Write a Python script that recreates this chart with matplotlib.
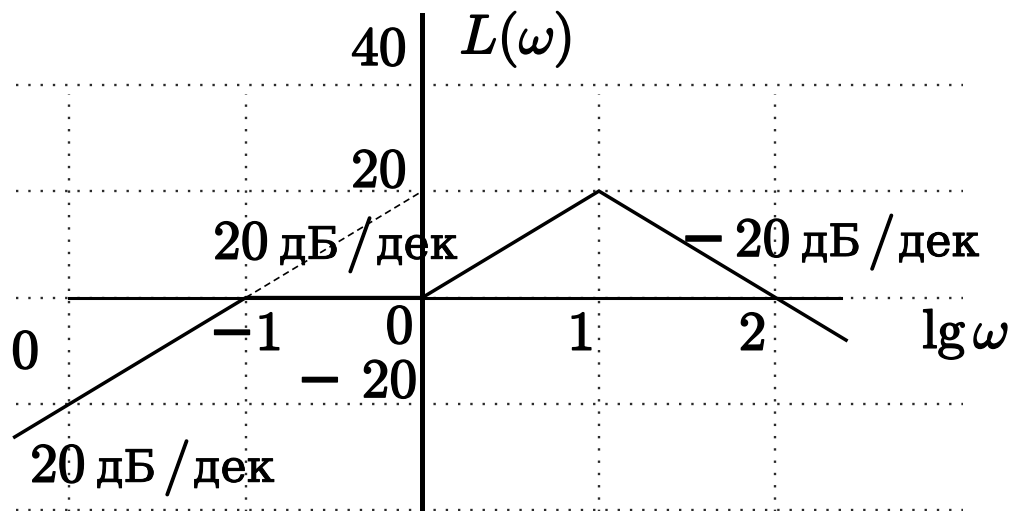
"""
Asymptotic log-magnitude characteristic L(w) with slope annotations.
"""

import matplotlib
matplotlib.use('Agg')
import matplotlib.pyplot as plt
import matplotlib.patheffects as pe
from matplotlib.transforms import offset_copy

plt.rcParams['mathtext.fontset'] = 'cm'
plt.rcParams['axes.unicode_minus'] = False

# Asymptotic characteristic: lg(w) breakpoints and L(w) in dB
lg_w = [-2.31, -1, 0, 1, 2, 2.4]
L_db = [-26.2, 0, 0, 20, 0, -8]

# Dashed continuation of the +20 dB/dec asymptote
ext_lg = [-1, 0]
ext_db = [0, 20]

# Grid positions
grid_lg = [-2, -1, 1, 2]
grid_db = [40, 20, 0, -20, -40]

# Axis tick labels: (text, lg, L)
x_labels = [('\u22121', -1.0, -9.8), ('1', 0.9, -9.8), ('2', 1.87, -9.8)]
y_labels = [('40', -0.09, 43.7), ('20', -0.09, 20.8), ('\u2212 20', -0.03, -18.7)]

# Slope annotations: (slope in dB/dec, lg of the number, L baseline)
slope_labels = [
    (20, -1.186, 7.3),
    (-20, 1.77, 7.8),
    (20, -2.223, -34.6),
]

num_fam = ['cmr10', 'DejaVu Serif']
fs = 40
fs_unit = 32
ink = [pe.withStroke(linewidth=1.1, foreground='black')]
ink_unit = [pe.withStroke(linewidth=0.7, foreground='black')]

fig = plt.figure(figsize=(10.15, 5.11), dpi=100)
ax = fig.add_axes([0, 0, 1, 1])
ax.set_xlim(-2.393, 3.357)
ax.set_ylim(-40.1, 55.9)
ax.axis('off')

# dotted grid
dot = dict(color='#2a2a2a', linewidth=1.7, linestyle=(0, (1, 4.2)))
for y in grid_db:
    ax.plot([-2.3, 3.06], [y, y], **dot)
for x in grid_lg:
    ax.plot([x, x], [-41, 38.2], **dot)

# coordinate axes
ax.plot([-2, 2.37], [0, 0], color='black', linewidth=2.2)
ax.plot([0, 0], [-41, 53.1], color='black', linewidth=3.6)

# characteristic
ax.plot(lg_w, L_db, color='black', linewidth=2.5, solid_joinstyle='miter')
ax.plot(ext_lg, ext_db, color='black', linewidth=1.2, linestyle=(0, (4, 2.5)))

for txt, x, y in x_labels:
    ax.text(x, y, txt, family=num_fam, fontsize=fs, ha='center', va='baseline',
            path_effects=ink)
ax.text(-0.13, -8.5, '0', family=num_fam, fontsize=fs, ha='center', va='baseline',
        path_effects=ink)
ax.text(-2.25, -13.2, '0', family=num_fam, fontsize=fs, ha='center', va='baseline',
        path_effects=ink)
for txt, x, y in y_labels:
    ax.text(x, y, txt, family=num_fam, fontsize=fs, ha='right', va='baseline',
            path_effects=ink)


def shifted(dx):
    return offset_copy(ax.transData, fig=fig, x=dx, y=0, units='dots')


# "20 дБ/дек": number and slash in the roman face, unit letters in a Cyrillic serif
for slope, x, y in slope_labels:
    ax.text(x, y, str(abs(slope)), family=num_fam, fontsize=fs, ha='left',
            va='baseline', path_effects=ink)
    if slope < 0:
        ax.text(x, y, '\u2212', family=num_fam, fontsize=fs, ha='right',
                va='baseline', path_effects=ink, transform=shifted(-8))
    ax.text(x, y, 'дБ', family='DejaVu Serif', fontsize=fs_unit, ha='left',
            va='baseline', path_effects=ink_unit, transform=shifted(66))
    ax.text(x, y, '/', family=num_fam, fontsize=fs, ha='left', va='baseline',
            path_effects=ink, transform=shifted(133))
    ax.text(x, y, 'дек', family='DejaVu Serif', fontsize=fs_unit, ha='left',
            va='baseline', path_effects=ink_unit, transform=shifted(163))

ax.text(0.21, 45.9, r'$L(\omega)$', fontsize=fs, ha='left', va='baseline',
        path_effects=ink)
ax.text(2.83, -9.5, r'$\mathrm{lg}\,\omega$', fontsize=fs, ha='left', va='baseline',
        path_effects=ink)

fig.savefig('out.png', dpi=100)
